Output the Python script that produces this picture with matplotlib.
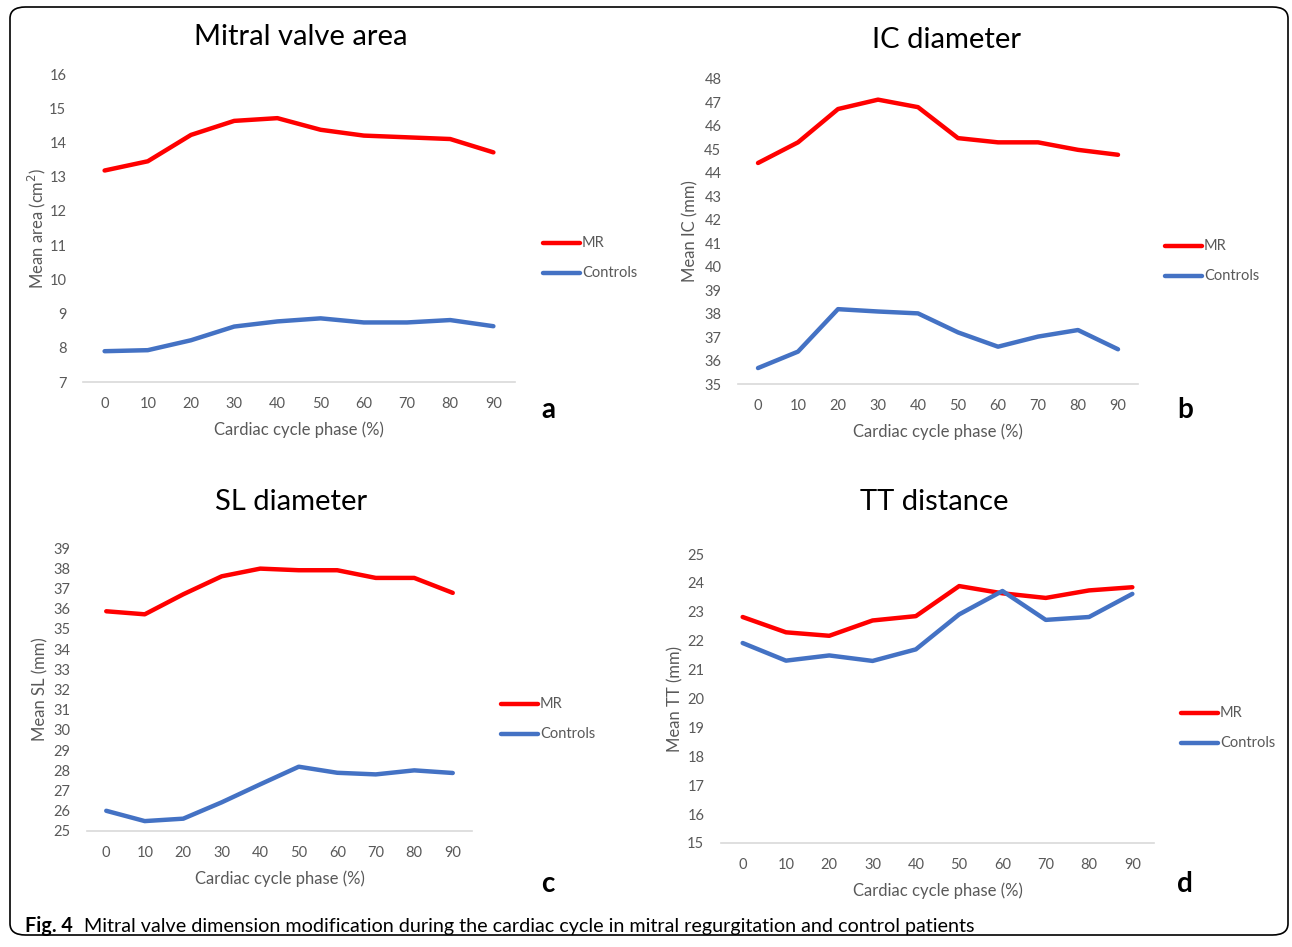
import matplotlib
matplotlib.use("Agg")
import matplotlib.pyplot as plt
from matplotlib.patches import FancyBboxPatch

plt.rcParams["font.family"] = ["Lato", "DejaVu Sans"]

phase = [0, 10, 20, 30, 40, 50, 60, 70, 80, 90]

area_mr = [13.18, 13.45, 14.22, 14.63, 14.71, 14.37, 14.2, 14.15, 14.1, 13.71]
area_ctrl = [7.9, 7.93, 8.22, 8.62, 8.77, 8.86, 8.74, 8.74, 8.81, 8.63]

ic_mr = [44.42, 45.3, 46.72, 47.12, 46.8, 45.48, 45.3, 45.3, 44.98, 44.77]
ic_ctrl = [35.68, 36.38, 38.19, 38.09, 38.01, 37.2, 36.59, 37.02, 37.3, 36.48]

sl_mr = [35.87, 35.72, 36.71, 37.6, 37.98, 37.9, 37.9, 37.52, 37.52, 36.78]
sl_ctrl = [26.0, 25.49, 25.61, 26.42, 27.31, 28.18, 27.88, 27.8, 28.0, 27.87]

tt_mr = [22.82, 22.29, 22.17, 22.7, 22.85, 23.89, 23.64, 23.48, 23.74, 23.85]
tt_ctrl = [21.92, 21.31, 21.49, 21.3, 21.7, 22.91, 23.72, 22.72, 22.82, 23.62]

W, H = 1292, 947
RED = "#FF0000"
BLUE = "#4472C4"
GREY = "#595959"

fig = plt.figure(figsize=(W / 100, H / 100), dpi=100)

# rounded frame around the whole figure
frame = FancyBboxPatch((10 / W, 12 / H), 1278 / W, 928 / H,
                       boxstyle="round,pad=0,rounding_size=0.012",
                       transform=fig.transFigure, fill=False,
                       edgecolor="black", linewidth=1.2)
fig.patches.append(frame)


def px_axes(left, right, top, bottom):
    return fig.add_axes([left / W, 1 - bottom / H, (right - left) / W, (bottom - top) / H])


def panel(box, mr, ctrl, ymin, ymax, title, ylabel, letter, title_xy, leg_xy, letter_xy, ylab_x):
    ax = px_axes(*box)
    x = range(len(phase))
    ax.plot(x, mr, color=RED, lw=3.2, solid_capstyle="round", solid_joinstyle="round")
    ax.plot(x, ctrl, color=BLUE, lw=3.2, solid_capstyle="round", solid_joinstyle="round")
    ax.set_xlim(-0.5, len(phase) - 0.5)
    ax.set_ylim(ymin, ymax)
    ax.set_xticks(list(x))
    ax.set_xticklabels([str(p) for p in phase])
    ax.set_yticks(range(ymin, ymax + 1))
    for s in ["top", "right", "left"]:
        ax.spines[s].set_visible(False)
    ax.spines["bottom"].set_color("#D9D9D9")
    ax.spines["bottom"].set_linewidth(1.2)
    ax.tick_params(length=0, labelsize=10.5, labelcolor=GREY)
    ax.tick_params(axis="x", pad=11)
    ax.tick_params(axis="y", pad=12)
    ax.set_xlabel("Cardiac cycle phase (%)", fontsize=12, color=GREY, labelpad=7)
    fig.text(ylab_x / W, 1 - (box[2] + box[3]) / 2 / H, ylabel, rotation=90,
             ha="center", va="center", fontsize=12, color=GREY)
    fig.text(title_xy[0] / W, 1 - title_xy[1] / H, title, ha="center", va="center",
             fontsize=21, color="black")
    fig.text(letter_xy[0] / W, 1 - letter_xy[1] / H, letter, ha="center", va="center",
             fontsize=20, fontweight="bold", color="black")
    # legend drawn by hand to sit outside the plotting area
    lx, ly = leg_xy
    for i, (lab, col) in enumerate([("MR", RED), ("Controls", BLUE)]):
        yy = 1 - (ly + i * 30) / H
        fig.add_artist(plt.Line2D([lx / W, (lx + 37) / W], [yy, yy], color=col, lw=3.2,
                                  transform=fig.transFigure, solid_capstyle="round"))
        fig.text((lx + 39) / W, yy, lab, ha="left", va="center", fontsize=10.5, color=GREY)
    return ax


panel((83, 515, 74, 382), area_mr, area_ctrl, 7, 16, "Mitral valve area",
      "Mean area (cm$^2$)", "a", (301, 37), (543, 243), (548, 410), 37)
panel((738, 1138, 79, 384), ic_mr, ic_ctrl, 35, 48, "IC diameter",
      "Mean IC (mm)", "b", (946, 40), (1165, 246), (1185, 410), 690)
panel((87, 472, 548, 831), sl_mr, sl_ctrl, 25, 39, "SL diameter",
      "Mean SL (mm)", "c", (291, 502), (501, 704), (548, 884), 40)
panel((721, 1154, 554, 843), tt_mr, tt_ctrl, 15, 25, "TT distance",
      "Mean TT (mm)", "d", (934, 502), (1181, 713), (1185, 884), 675)

fig.text(25 / W, 1 - 926 / H, "Fig. 4", ha="left", va="center", fontsize=14.2,
         fontweight="bold")
fig.text(84 / W, 1 - 926 / H,
         "Mitral valve dimension modification during the cardiac cycle in mitral regurgitation and control patients",
         ha="left", va="center", fontsize=14.2)

fig.savefig("out.png", dpi=100)
